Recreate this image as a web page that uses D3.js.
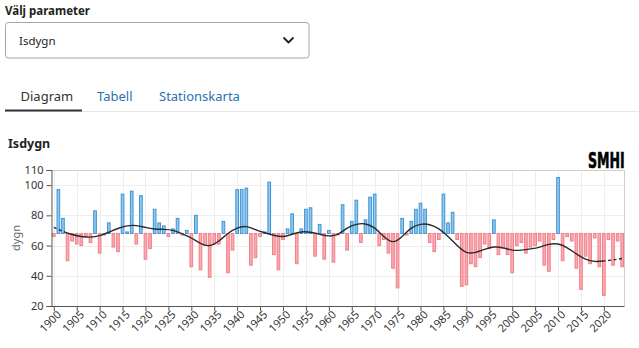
<!DOCTYPE html>
<html>
<head>
<meta charset="utf-8">
<script src="https://cdn.jsdelivr.net/npm/d3@7"></script>
<style>
  html, body { margin: 0; padding: 0; background: #fff; }
  svg { display: block; font-family: "Noto Sans", "Open Sans", sans-serif; }
</style>
</head>
<body>
<svg id="c" width="639" height="348"></svg>
<script>
// ---- data ----
const startYear = 1900;
const isdygn = [
  66, 97, 78, 50, 63, 61, 60, 66, 62, 83,   // 1900-1909
  55, 67, 75, 59, 56, 94, 69, 96, 61, 93,   // 1910-1919
  51, 58, 84, 75, 73, 66, 71, 78, 67, 70,   // 1920-1929
  46, 80, 44, 60, 39, 61, 61, 76, 42, 57,   // 1930-1939
  97, 97, 98, 47, 52, 66, 69, 102, 54, 44,  // 1940-1949
  64, 71, 81, 48, 71, 84, 85, 53, 74, 51,   // 1950-1959
  70, 49, 67, 87, 57, 76, 90, 62, 77, 92,   // 1960-1969
  94, 60, 64, 55, 45, 32, 78, 67, 76, 84,   // 1970-1979
  88, 84, 62, 56, 64, 94, 75, 82, 64, 33,   // 1980-1989
  34, 48, 46, 52, 61, 58, 77, 54, 58, 54,   // 1990-1999
  42, 60, 62, 55, 59, 60, 63, 47, 43, 64,   // 2000-2009
  105, 50, 66, 63, 45, 31, 53, 48, 65, 46,  // 2010-2019
  27, 64, 47, 63, 46                        // 2020-2024
];
const years = isdygn.map((d, i) => startYear + i);
const meanValue = 68;

// smoothed curve
const smoothYears = [1900,1902,1904,1906,1908,1910,1912,1914,1916,1918,1920,1922,1924,1926,1928,1930,1932,1934,1936,1938,1940,1942,1944,1946,1948,1950,1952,1954,1956,1958,1960,1962,1964,1966,1968,1970,1972,1974,1976,1978,1980,1982,1984,1986,1988,1990,1992,1994,1996,1998,2000,2002,2004,2006,2008,2010,2012,2014,2016,2018,2020,2022,2024];
const smoothValues = [72,69.4,67.3,66,65.6,66.6,68.8,71.3,73,73.2,72,71,70.7,70,67.8,65,61.5,60,63,68,71.5,72.5,70.5,68.5,66.8,66,67.5,69,68.8,67.5,66.4,67.5,71.5,74,74.3,71.5,66,62.6,66,71.5,74,73.8,71,66,60,55.5,55.5,57.5,59,58.5,57,57,57.8,59,60.8,61,58.5,54.5,51,49.5,49.8,50.5,51.5];
const solidFrom = 1902.5, solidTo = 2020;

const yTicks = [20, 40, 60, 80, 100, 110];
const xTickYears = d3.range(1900, 2021, 5);

// ---- layout ----
const svg = d3.select("#c");
const L = 51.5, R = 624.5, T = 170, B = 306;

// header UI
svg.append("text").attr("x", 5).attr("y", 15).attr("font-size", 11.5).attr("font-weight", 700)
  .attr("fill", "#222").text("Välj parameter");
svg.append("rect").attr("x", 5.5).attr("y", 22.5).attr("width", 303.5).attr("height", 35.5)
  .attr("rx", 3).attr("fill", "#fff").attr("stroke", "#a6a6a6");
svg.append("text").attr("x", 19).attr("y", 45).attr("font-size", 11.5).attr("fill", "#222").text("Isdygn");
svg.append("path").attr("d", "M284,38 L288.5,42.5 L293,38").attr("fill", "none")
  .attr("stroke", "#222").attr("stroke-width", 1.8).attr("stroke-linecap", "round").attr("stroke-linejoin", "round");

svg.append("line").attr("x1", 5).attr("x2", 639).attr("y1", 111.5).attr("y2", 111.5).attr("stroke", "#e6e6e6");
svg.append("line").attr("x1", 5).attr("x2", 82).attr("y1", 110.5).attr("y2", 110.5).attr("stroke", "#333").attr("stroke-width", 2);
svg.append("text").attr("x", 20.5).attr("y", 101).attr("font-size", 13).attr("fill", "#333").text("Diagram");
svg.append("text").attr("x", 97).attr("y", 101).attr("font-size", 13).attr("fill", "#2b72b0").text("Tabell");
svg.append("text").attr("x", 159).attr("y", 101).attr("font-size", 13).attr("fill", "#2b72b0").text("Stationskarta");

svg.append("text").attr("x", 8).attr("y", 148).attr("font-size", 12.5).attr("font-weight", 700)
  .attr("fill", "#222").text("Isdygn");

// SMHI logo text (condensed via horizontal scale)
svg.append("text").attr("transform", "translate(588,168) scale(0.6,1)")
  .attr("font-family", "'DejaVu Sans', sans-serif")
  .attr("font-size", 21).attr("font-weight", 700).attr("fill", "#000")
  .attr("stroke", "#000").attr("stroke-width", 0.6).text("SMHI");

// ---- scales ----
const xb = d3.scaleBand().domain(years).range([L, R]).paddingInner(0.2).paddingOuter(0.1);
const xc = y => xb(y) + xb.bandwidth() / 2;
const xl = d3.scaleLinear().domain([years[0], years[years.length - 1]]).range([xc(years[0]), xc(years[years.length - 1])]);
const y = d3.scaleLinear().domain([20, 110]).range([B, T]);

// grid
const g = svg.append("g");
g.selectAll("line.vg").data(xTickYears).join("line")
  .attr("x1", d => Math.round(xc(d)) + 0.5).attr("x2", d => Math.round(xc(d)) + 0.5)
  .attr("y1", T).attr("y2", B).attr("stroke", "#eeeeee");
g.selectAll("line.hg").data([40, 60, 80, 100]).join("line")
  .attr("x1", L).attr("x2", R).attr("y1", d => Math.round(y(d)) + 0.5).attr("y2", d => Math.round(y(d)) + 0.5)
  .attr("stroke", "#eeeeee");
g.append("line").attr("x1", L).attr("x2", R).attr("y1", T + 0.5).attr("y2", T + 0.5).attr("stroke", "#cfcfcf");
g.append("line").attr("x1", R).attr("x2", R).attr("y1", T).attr("y2", B).attr("stroke", "#cfcfcf");

// bars
const data = years.map((yr, i) => ({ yr, v: isdygn[i] }));
svg.append("g").selectAll("rect").data(data).join("rect")
  .attr("x", d => xb(d.yr) + 0.5)
  .attr("width", xb.bandwidth() - 1)
  .attr("y", d => Math.min(y(d.v), y(meanValue)))
  .attr("height", d => Math.max(0.5, Math.abs(y(d.v) - y(meanValue))))
  .attr("fill", d => d.v >= meanValue ? "#8fc9ef" : "#fbaab0")
  .attr("stroke", d => d.v >= meanValue ? "#4193d3" : "#f07f89")
  .attr("stroke-width", 1);

// smooth line
const sm = smoothYears.map((yr, i) => [yr, smoothValues[i]]);
const line = d3.line().x(d => xl(d[0])).y(d => y(d[1])).curve(d3.curveNatural);
const defs = svg.append("defs");
defs.append("clipPath").attr("id", "solidClip").append("rect")
  .attr("x", xl(solidFrom)).attr("width", xl(solidTo) - xl(solidFrom)).attr("y", 0).attr("height", 348);
const dc = defs.append("clipPath").attr("id", "dashClip");
dc.append("rect").attr("x", 0).attr("width", xl(solidFrom)).attr("y", 0).attr("height", 348);
dc.append("rect").attr("x", xl(solidTo)).attr("width", 639 - xl(solidTo)).attr("y", 0).attr("height", 348);
svg.append("path").datum(sm).attr("d", line).attr("fill", "none").attr("stroke", "#2b2b2b")
  .attr("stroke-width", 1.4).attr("clip-path", "url(#solidClip)");
svg.append("path").datum(sm).attr("d", line).attr("fill", "none").attr("stroke", "#2b2b2b")
  .attr("stroke-width", 1.4).attr("stroke-dasharray", "3,2.5").attr("clip-path", "url(#dashClip)");

// axes
const yAxis = svg.append("g").attr("transform", `translate(${L},0)`)
  .call(d3.axisLeft(y).tickValues(yTicks).tickSize(5).tickPadding(3));
yAxis.select(".domain").attr("stroke", "#555");
yAxis.selectAll(".tick line").attr("stroke", "#555");
yAxis.selectAll("text").attr("font-size", 11).attr("fill", "#333").attr("font-family", "'Noto Sans', sans-serif");

const xAxis = svg.append("g").attr("transform", `translate(0,${B})`)
  .call(d3.axisBottom(xl).tickValues(xTickYears).tickFormat(d3.format("d")).tickSize(5).tickPadding(2).tickSizeOuter(0));
xAxis.select(".domain").attr("stroke", "#555").attr("d", `M${L},0.5H${R}`);
xAxis.selectAll(".tick line").attr("stroke", "#555");
xAxis.selectAll("text").attr("font-size", 11).attr("fill", "#333").attr("font-family", "'Noto Sans', sans-serif")
  .attr("text-anchor", "end").attr("dx", "-0.1em").attr("dy", "0.45em").attr("transform", "rotate(-45)");

svg.append("text").attr("transform", "translate(20,238) rotate(-90)").attr("text-anchor", "middle")
  .attr("font-size", 11).attr("fill", "#666").text("dygn");
</script>
</body>
</html>
